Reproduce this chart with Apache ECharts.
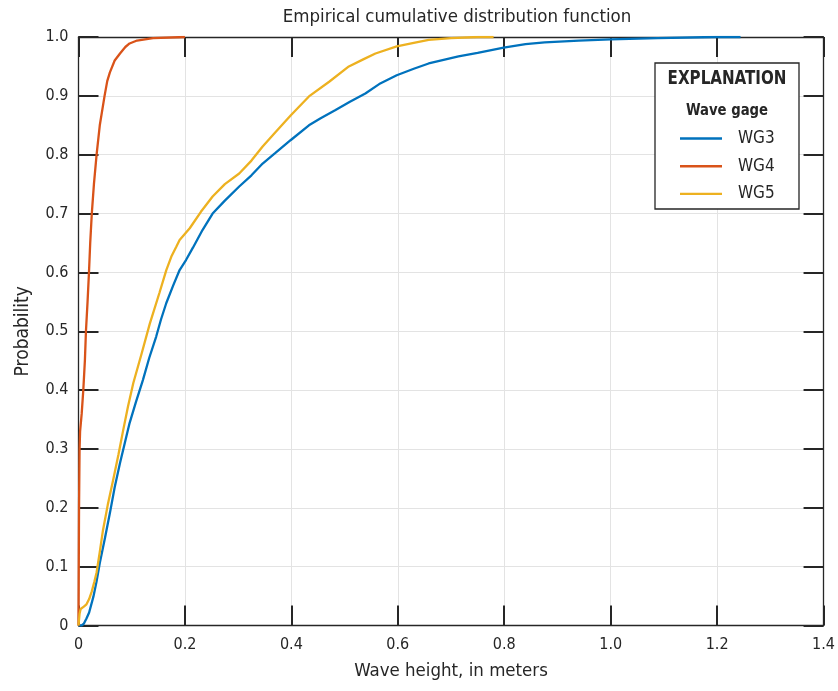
<!DOCTYPE html>
<html>
<head>
<meta charset="utf-8">
<script src="https://cdn.jsdelivr.net/npm/echarts@6/dist/echarts.min.js"></script>
<style>
  html, body { margin: 0; padding: 0; background: #fff; }
  #chart { width: 838px; height: 691px; }
</style>
</head>
<body>
<div id="chart"></div>
<script>
// Empirical CDF of wave heights at three wave gages
const xTicks = [0, 0.2, 0.4, 0.6, 0.8, 1.0, 1.2, 1.4];
const yTicks = [0, 0.1, 0.2, 0.3, 0.4, 0.5, 0.6, 0.7, 0.8, 0.9, 1.0];
const seriesNames = ['WG3', 'WG4', 'WG5'];

const wg3Height = [0, 0.006, 0.010, 0.015, 0.020, 0.028, 0.034, 0.040, 0.050, 0.059, 0.068, 0.078, 0.087, 0.096, 0.108, 0.121, 0.133, 0.146, 0.155, 0.165, 0.178, 0.190, 0.202, 0.215, 0.233, 0.252, 0.275, 0.302, 0.325, 0.346, 0.370, 0.399, 0.433, 0.455, 0.483, 0.510, 0.539, 0.565, 0.598, 0.630, 0.658, 0.714, 0.750, 0.799, 0.840, 0.876, 0.940, 1.000, 1.088, 1.197, 1.244];
const wg3Prob   = [0, 0.000, 0.003, 0.012, 0.022, 0.049, 0.075, 0.106, 0.150, 0.191, 0.235, 0.276, 0.310, 0.344, 0.380, 0.417, 0.455, 0.491, 0.520, 0.548, 0.578, 0.604, 0.621, 0.642, 0.672, 0.700, 0.722, 0.746, 0.765, 0.785, 0.803, 0.825, 0.850, 0.862, 0.876, 0.890, 0.904, 0.920, 0.935, 0.946, 0.955, 0.967, 0.973, 0.982, 0.988, 0.991, 0.994, 0.996, 0.998, 1.000, 1.000];

const wg4Height = [0, 0.0005, 0.001, 0.002, 0.003, 0.006, 0.009, 0.012, 0.014, 0.017, 0.0197, 0.022, 0.025, 0.029, 0.034, 0.040, 0.049, 0.054, 0.059, 0.068, 0.078, 0.088, 0.096, 0.110, 0.140, 0.200];
const wg4Prob   = [0, 0.10, 0.20, 0.30, 0.33, 0.36, 0.40, 0.45, 0.50, 0.55, 0.60, 0.65, 0.70, 0.75, 0.80, 0.85, 0.90, 0.925, 0.940, 0.960, 0.972, 0.983, 0.989, 0.994, 0.998, 1.000];

const wg5Height = [0, 0.002, 0.004, 0.010, 0.015, 0.020, 0.025, 0.030, 0.034, 0.040, 0.046, 0.055, 0.065, 0.075, 0.084, 0.093, 0.103, 0.118, 0.134, 0.152, 0.165, 0.175, 0.184, 0.190, 0.209, 0.230, 0.252, 0.275, 0.302, 0.325, 0.346, 0.370, 0.399, 0.433, 0.471, 0.508, 0.535, 0.558, 0.598, 0.630, 0.658, 0.700, 0.751, 0.780];
const wg5Prob   = [0, 0.020, 0.028, 0.032, 0.036, 0.045, 0.058, 0.075, 0.090, 0.125, 0.162, 0.205, 0.247, 0.290, 0.332, 0.372, 0.412, 0.460, 0.513, 0.565, 0.604, 0.628, 0.644, 0.655, 0.675, 0.703, 0.729, 0.750, 0.768, 0.790, 0.814, 0.838, 0.867, 0.899, 0.924, 0.950, 0.962, 0.972, 0.984, 0.990, 0.995, 0.998, 1.000, 1.000];

const colors = ['#0072BD', '#D95319', '#EDB120'];
const font = "'Liberation Sans Narrow', 'DejaVu Sans Condensed', 'Roboto', sans-serif";
const ink = '#262626';

function pairs(xs, ys) { return xs.map((x, i) => [x, ys[i]]); }
function fmt(v) { return v === 0 ? '0' : v.toFixed(1); }

const baseAxis = {
  axisLine: { show: true, onZero: false, lineStyle: { color: ink, width: 1.3 } },
  axisTick: { show: true, inside: true, length: 20, lineStyle: { color: ink, width: 2 } },
  splitLine: { show: false },
  axisLabel: { show: false }
};

const chart = echarts.init(document.getElementById('chart'), null, { renderer: 'canvas' });
chart.setOption({
  animation: false,
  color: colors,
  textStyle: { fontFamily: font },
  title: {
    text: 'Empirical cumulative distribution function',
    left: 452, top: 3, textAlign: 'center',
    textStyle: { fontFamily: font, fontSize: 18.5, fontWeight: 'normal', color: ink }
  },
  grid: { left: 78.5, right: 10.5, top: 37, bottom: 65.5, containLabel: false },
  xAxis: [
    Object.assign({}, baseAxis, {
      type: 'value', min: xTicks[0], max: xTicks[xTicks.length - 1], interval: 0.2, position: 'bottom',
      name: 'Wave height, in meters', nameLocation: 'middle', nameGap: 36,
      nameTextStyle: { fontFamily: font, fontSize: 18.5, color: ink },
      axisLabel: { show: true, margin: 11, fontFamily: font, fontSize: 16, color: ink, formatter: fmt },
      splitLine: { show: true, lineStyle: { color: '#e3e3e3', width: 1 } }
    }),
    Object.assign({}, baseAxis, {
      type: 'value', min: xTicks[0], max: xTicks[xTicks.length - 1], interval: 0.2, position: 'top'
    })
  ],
  yAxis: [
    Object.assign({}, baseAxis, {
      type: 'value', min: yTicks[0], max: yTicks[yTicks.length - 1], interval: 0.1, position: 'left',
      name: 'Probability', nameLocation: 'middle', nameGap: 46,
      nameTextStyle: { fontFamily: font, fontSize: 19, color: ink },
      axisLabel: { show: true, margin: 10, fontFamily: font, fontSize: 16, color: ink, formatter: fmt },
      splitLine: { show: true, lineStyle: { color: '#e3e3e3', width: 1 } }
    }),
    Object.assign({}, baseAxis, {
      type: 'value', min: yTicks[0], max: yTicks[yTicks.length - 1], interval: 0.1, position: 'right'
    })
  ],
  legend: {
    orient: 'vertical', left: 675, top: 125, z: 6,
    itemWidth: 42, itemHeight: 14, itemGap: 10.7,
    icon: 'path://M0,0 L42,0 L42,2.4 L0,2.4 Z',
    data: seriesNames,
    textStyle: { fontFamily: font, fontSize: 17, color: ink, padding: [0, 0, 0, 11] }
  },
  graphic: [
    { type: 'rect', z: 3, shape: { x: 655, y: 63, width: 144, height: 146 },
      style: { fill: '#fff', stroke: ink, lineWidth: 1.3 } },
    { type: 'text', z: 5, x: 727, y: 79, scaleX: 0.84,
      style: { text: 'EXPLANATION', font: "bold 20px " + font, fill: ink, textAlign: 'center', textVerticalAlign: 'middle' } },
    { type: 'text', z: 5, x: 727, y: 111, scaleX: 0.92,
      style: { text: 'Wave gage', font: "bold 16px " + font, fill: ink, textAlign: 'center', textVerticalAlign: 'middle' } }
  ],
  series: [
    { name: seriesNames[0], type: 'line', data: pairs(wg3Height, wg3Prob), symbol: 'none', lineStyle: { width: 2.3 }, z: 2 },
    { name: seriesNames[1], type: 'line', data: pairs(wg4Height, wg4Prob), symbol: 'none', lineStyle: { width: 2.3 }, z: 2 },
    { name: seriesNames[2], type: 'line', data: pairs(wg5Height, wg5Prob), symbol: 'none', lineStyle: { width: 2.3 }, z: 2 }
  ]
});
</script>
</body>
</html>
